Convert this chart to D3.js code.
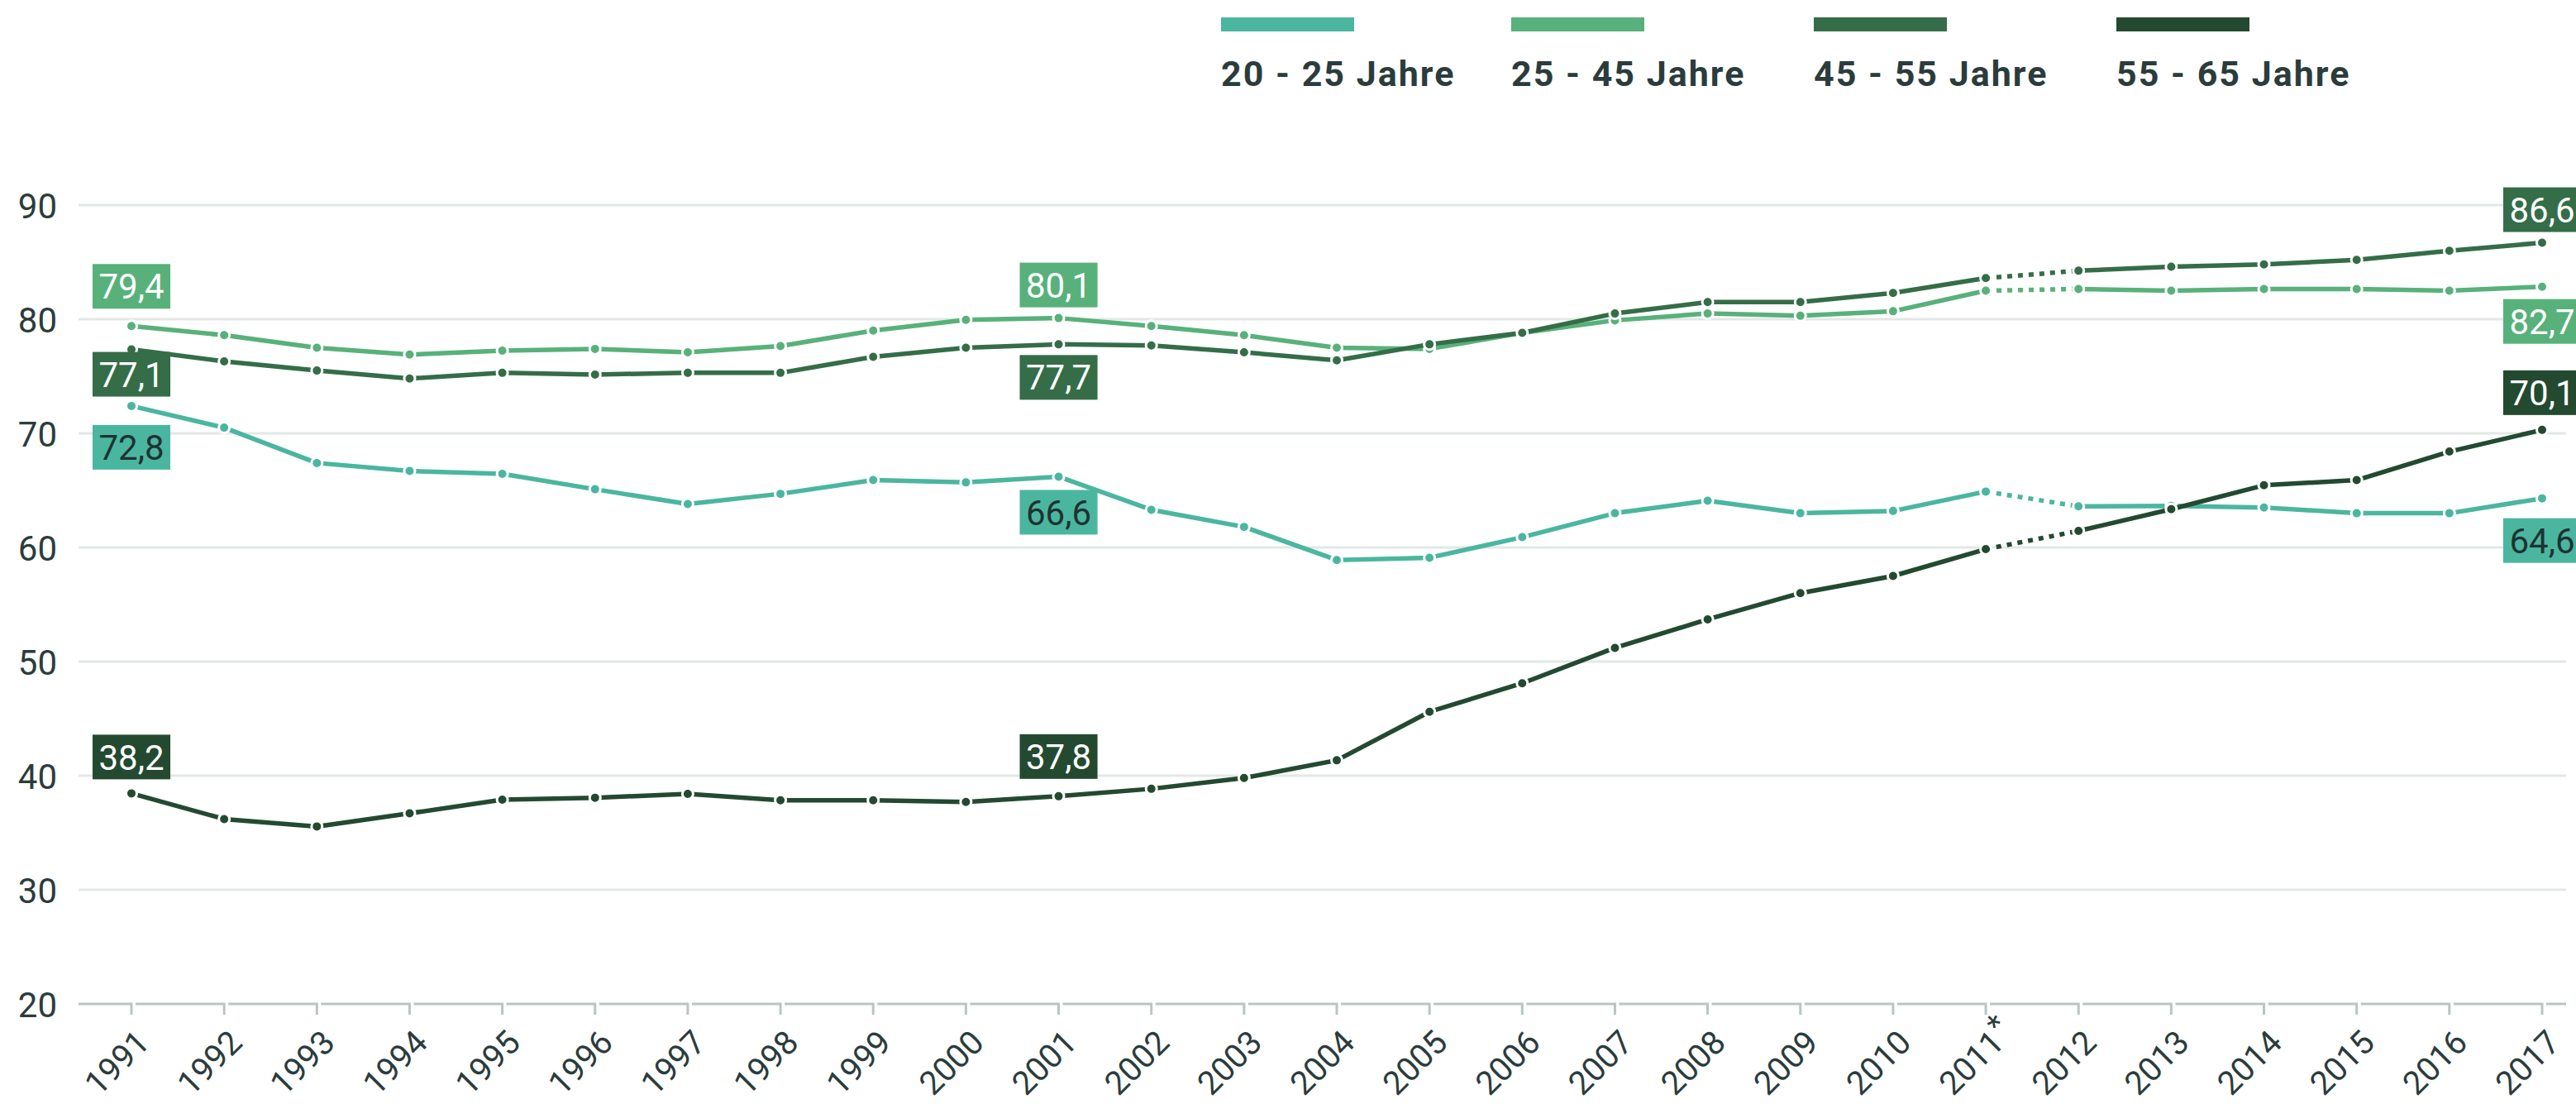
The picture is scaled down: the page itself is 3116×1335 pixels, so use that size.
<!DOCTYPE html>
<html>
<head>
<meta charset="utf-8">
<script src="https://cdn.jsdelivr.net/npm/d3@7"></script>
<style>
  html, body { margin: 0; padding: 0; background: #ffffff; }
  svg { display: block; font-family: Roboto, "Noto Sans", sans-serif; }
</style>
</head>
<body>
<svg id="chart" width="3116" height="1335"></svg>
<script>
// ---------------- DATA ----------------
const years = [1991,1992,1993,1994,1995,1996,1997,1998,1999,2000,2001,2002,2003,2004,2005,2006,2007,2008,2009,2010,2011,2012,2013,2014,2015,2016,2017];
const footnoteYear = 2011;           // year marked with "*"
const seriesNames = ["20 - 25 Jahre", "25 - 45 Jahre", "45 - 55 Jahre", "55 - 65 Jahre"];

const s20_25 = [72.4,70.5,67.4,66.7,66.45,65.1,63.8,64.7,65.9,65.7,66.2,63.3,61.8,58.9,59.1,60.9,63.0,64.1,63.0,63.2,64.9,63.6,63.65,63.5,63.0,63.0,64.3];
const s25_45 = [79.4,78.6,77.5,76.9,77.25,77.4,77.1,77.65,79.0,79.95,80.1,79.4,78.6,77.5,77.4,78.8,79.9,80.5,80.3,80.7,82.5,82.65,82.5,82.65,82.65,82.5,82.85];
const s45_55 = [77.35,76.3,75.5,74.8,75.3,75.15,75.3,75.3,76.7,77.5,77.8,77.7,77.1,76.4,77.8,78.8,80.5,81.5,81.5,82.3,83.6,84.25,84.6,84.8,85.2,86.0,86.7];
const s55_65 = [38.45,36.2,35.55,36.7,37.9,38.07,38.4,37.85,37.85,37.7,38.2,38.85,39.8,41.35,45.6,48.1,51.2,53.7,56.0,57.5,59.85,61.45,63.35,65.45,65.9,68.4,70.3];

// value labels shown in boxes
const labelYears = [1991, 2001, 2017];
const lab20_25 = [72.8, 66.6, 64.6];
const lab25_45 = [79.4, 80.1, 82.7];
const lab45_55 = [77.1, 77.7, 86.6];
const lab55_65 = [38.2, 37.8, 70.1];

const yTicks = [20,30,40,50,60,70,80,90];
// the segment between these two years is dotted
const dottedFrom = 2011, dottedTo = 2012;

// ---------------- STYLE ----------------
const colors = ["#4bb6a0", "#58b17a", "#346d48", "#234a30"];
const labelTextColors = ["#1f3232", "#ffffff", "#ffffff", "#ffffff"];
// label box offset from point (negative = box above point: distance of box bottom; positive = box top below point)
const labelGaps = [[23,16,24],[-21,-13,15],[3,13,-13],[-17,-21,-18]];
const textColor = "#2b3c3c";

const seriesValues = [s20_25, s25_45, s45_55, s55_65];
const seriesLabels = [lab20_25, lab25_45, lab45_55, lab55_65];

const svg = d3.select("#chart");
const x = d3.scalePoint().domain(years).range([159, 3075]);
const y = d3.scaleLinear().domain([20, 90]).range([1214, 248]);
const gridX0 = 95, gridX1 = 3104;

// gridlines
svg.append("g").selectAll("line")
  .data(yTicks.filter(t => t !== 20))
  .join("line")
  .attr("x1", gridX0).attr("x2", gridX1)
  .attr("y1", d => y(d)).attr("y2", d => y(d))
  .attr("stroke", "#e3e8e7").attr("stroke-width", 3);

// y-axis labels
const yAxis = d3.axisLeft(y).tickValues(yTicks).tickSize(0).tickPadding(0).tickFormat(d3.format("d"));
const gy = svg.append("g").attr("transform", "translate(69,0)").call(yAxis);
gy.select(".domain").remove();
gy.selectAll("text").attr("fill", textColor).attr("font-size", 42)
  .attr("font-family", "Roboto").attr("dy", "0.36em");

// x axis baseline with segmented ticks
const axisG = svg.append("g");
const axisColor = "#b9c5c4";
const y0 = y(20);
let pathD = "";
let prev = gridX0;
years.forEach((yr, i) => {
  const xi = x(yr);
  pathD += `M${prev},${y0}H${xi}V${y0 + 13}`;
  prev = xi + 5;
});
pathD += `M${prev},${y0}H${gridX1}`;
axisG.append("path").attr("d", pathD).attr("fill", "none")
  .attr("stroke", axisColor).attr("stroke-width", 3);

// x labels
const xg = svg.append("g");
xg.selectAll("text.year").data(years).join("text")
  .attr("class", "year")
  .attr("transform", d => `translate(${x(d) + 24},1263) rotate(-45)`)
  .attr("text-anchor", "end")
  .attr("font-size", 40)
  .attr("fill", textColor)
  .text(d => d);
// footnote asterisk
xg.selectAll("text.star").data([footnoteYear]).join("text")
  .attr("class", "star")
  .attr("transform", d => `translate(${x(d) + 24},1263) rotate(-45)`)
  .attr("text-anchor", "start")
  .attr("dx", 1).attr("dy", "-0.3em")
  .attr("font-size", 38)
  .attr("fill", textColor)
  .text("*");

// lines
const line = d3.line().x(d => x(d.year)).y(d => y(d.value));
seriesValues.forEach((vals, si) => {
  const pts = years.map((yr, i) => ({year: yr, value: vals[i]}));
  const iFrom = years.indexOf(dottedFrom), iTo = years.indexOf(dottedTo);
  const g = svg.append("g");
  g.append("path").datum(pts.slice(0, iFrom + 1)).attr("d", line)
    .attr("fill", "none").attr("stroke", colors[si]).attr("stroke-width", 5.5).attr("stroke-linejoin", "round");
  g.append("path").datum(pts.slice(iFrom, iTo + 1)).attr("d", line)
    .attr("fill", "none").attr("stroke", colors[si]).attr("stroke-width", 5.5).attr("stroke-dasharray", "6,7");
  g.append("path").datum(pts.slice(iTo)).attr("d", line)
    .attr("fill", "none").attr("stroke", colors[si]).attr("stroke-width", 5.5).attr("stroke-linejoin", "round");
  g.selectAll("circle").data(pts).join("circle")
    .attr("cx", d => x(d.year)).attr("cy", d => y(d.value)).attr("r", 6.5)
    .attr("fill", colors[si]).attr("stroke", "#ffffff").attr("stroke-width", 3);
});

// value label boxes
const fmt = v => d3.format(".1f")(v).replace(".", ",");
seriesLabels.forEach((labs, si) => {
  labs.forEach((v, li) => {
    const yr = labelYears[li];
    const idx = years.indexOf(yr);
    const px = x(yr), py = y(seriesValues[si][idx]);
    const gap = labelGaps[si][li];
    const h = 54;
    const top = gap < 0 ? py + gap - h : py + gap;
    const g = svg.append("g");
    const rect = g.append("rect").attr("fill", colors[si]);
    const t = g.append("text").text(fmt(v))
      .attr("x", px).attr("y", top + h / 2).attr("dy", "0.36em")
      .attr("text-anchor", "middle").attr("font-size", 42)
      .attr("fill", labelTextColors[si]);
    const bb = t.node().getBBox();
    const w = bb.width + 15;
    rect.attr("x", px - w / 2).attr("y", top).attr("width", w).attr("height", h);
  });
});

// legend
const legendX = [1477, 1828, 2194, 2560];
const lg = svg.append("g").selectAll("g").data(seriesNames).join("g")
  .attr("transform", (d, i) => `translate(${legendX[i]},0)`);
lg.append("rect").attr("x", 0).attr("y", 21).attr("width", 161).attr("height", 17)
  .attr("fill", (d, i) => colors[i]);
lg.append("text").text(d => d).attr("x", 0).attr("y", 104)
  .attr("font-size", 43).attr("font-weight", 700).attr("letter-spacing", 2)
  .attr("fill", textColor);
</script>
</body>
</html>
